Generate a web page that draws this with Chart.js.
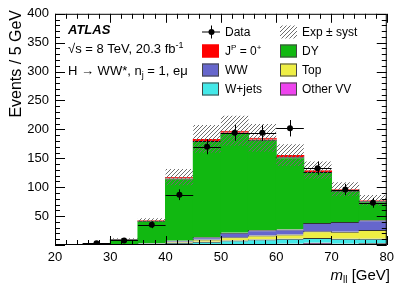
<!DOCTYPE html>
<html>
<head>
<meta charset="utf-8">
<script src="https://cdn.jsdelivr.net/npm/chart.js@4.4.0/dist/chart.umd.min.js"></script>
<style>
html, body { margin: 0; padding: 0; background: #fff; }
</style>
</head>
<body>
<canvas id="myChart" width="399" height="286"></canvas>
<script>
// bin centres of the 5 GeV bins, 20-80 GeV
var binCenters = [22.5, 27.5, 32.5, 37.5, 42.5, 47.5, 52.5, 57.5, 62.5, 67.5, 72.5, 77.5];

// stacked backgrounds, bottom to top
var otherVV = [0, 0, 0, 0.3, 0.5, 1, 1, 1.5, 2, 4, 2, 3];
var wJets   = [0, 0.2, 0.5, 1, 3.5, 4.5, 7, 8, 9, 8, 9, 8];
var topBkg  = [0, 0.1, 0.3, 0.5, 1.5, 4, 5.5, 7, 7, 12, 12, 15];
var ww      = [0, 0.2, 0.5, 1, 2, 4, 7.5, 9, 9, 14, 17, 17];
var dy      = [0.8, 1.5, 8.5, 39, 107.5, 166.5, 173, 156.5, 125, 88.5, 54, 32.5];
var signal  = [0.3, 0.2, 0.5, 1.5, 2.5, 3.5, 3.5, 3.5, 3.5, 3, 2.5, 2];

// +- syst on the total expectation
var expSyst = [0.3, 0.5, 1.5, 3, 14, 24, 26, 24, 19, 15, 12, 9];

// observed data and its errors
var dataVals = [null, 3, 8, 35, 87, 170, 194, 194, 202, 133, 96, 73];
var dataErr  = [0, 1.7, 2.8, 5.9, 9.3, 13, 13.9, 13.9, 14.2, 11.5, 9.8, 8.5];

var xTicks = [20, 30, 40, 50, 60, 70, 80];
var yTicks = [50, 100, 150, 200, 250, 300, 350, 400];

var FONT = '"Liberation Sans", Arial, Helvetica, sans-serif';
Chart.defaults.font.family = FONT;
Chart.defaults.color = '#000';

function toPoints(arr) {
    return binCenters.map((c, i) => ({ x: c, y: arr[i] }));
}

var ctx = document.getElementById('myChart').getContext('2d');

function makeHatch() {
    var c = document.createElement('canvas');
    c.width = 4; c.height = 4;
    var g = c.getContext('2d');
    g.strokeStyle = '#6e6e6e';
    g.lineWidth = 1;
    g.beginPath();
    g.moveTo(0, 4); g.lineTo(4, 0);
    g.moveTo(-1, 1); g.lineTo(1, -1);
    g.moveTo(3, 5); g.lineTo(5, 3);
    g.stroke();
    return ctx.createPattern(c, 'repeat');
}
var hatch = makeHatch();

var totals = binCenters.map((c, i) => otherVV[i] + wJets[i] + topBkg[i] + ww[i] + dy[i] + signal[i]);
var band = binCenters.map((c, i) => ({ x: c, y: [totals[i] - expSyst[i], totals[i] + expSyst[i]] }));

function stackSet(label, arr, color, border) {
    return {
        type: 'bar',
        label: label,
        data: toPoints(arr),
        backgroundColor: color,
        borderColor: border,
        borderWidth: { top: 1, right: 0, bottom: 0, left: 0 },
        barThickness: 29,   // 1px overlap hides seams between bins
        inflateAmount: 0,
        grouped: false,
        yAxisID: 'y'
    };
}

// text with sub/superscripts: parts = [[text, size, dy, style]]
function richText(g, parts, x, y, align) {
    var w = 0;
    parts.forEach(p => {
        g.font = (p[3] || '') + ' ' + p[1] + 'px ' + FONT;
        w += g.measureText(p[0]).width;
    });
    var cx = align === 'right' ? x - w : x;
    parts.forEach(p => {
        g.font = (p[3] || '') + ' ' + p[1] + 'px ' + FONT;
        g.fillText(p[0], cx, y + (p[2] || 0));
        cx += g.measureText(p[0]).width;
    });
}

var decor = {
    id: 'decor',
    afterDatasetsDraw(chart) {
        var g = chart.ctx, a = chart.chartArea;
        var xs = chart.scales.x, ys = chart.scales.y;
        g.save();
        g.strokeStyle = '#000';
        g.lineWidth = 1;

        // data error bars
        g.beginPath();
        binCenters.forEach((c, i) => {
            if (dataVals[i] === null) return;
            var px = xs.getPixelForValue(c), py = ys.getPixelForValue(dataVals[i]);
            g.moveTo(xs.getPixelForValue(c - 2.5), Math.round(py) + 0.5);
            g.lineTo(xs.getPixelForValue(c + 2.5), Math.round(py) + 0.5);
            g.moveTo(Math.round(px) + 0.5, ys.getPixelForValue(dataVals[i] + dataErr[i]));
            g.lineTo(Math.round(px) + 0.5, ys.getPixelForValue(dataVals[i] - dataErr[i]));
        });
        g.stroke();

        // frame + inward ticks
        g.strokeRect(a.left + 0.5, a.top + 0.5, a.right - a.left - 1, a.bottom - a.top - 1);
        g.beginPath();
        for (var v = 20; v <= 80; v += 2) {
            var px = Math.round(xs.getPixelForValue(v)) + 0.5;
            var len = v % 10 === 0 ? 9 : 5;
            g.moveTo(px, a.bottom); g.lineTo(px, a.bottom - len);
            g.moveTo(px, a.top); g.lineTo(px, a.top + len);
        }
        for (var v = 0; v <= 400; v += 10) {
            var py = Math.round(ys.getPixelForValue(v)) + 0.5;
            var len = v % 50 === 0 ? 10 : 5;
            g.moveTo(a.left, py); g.lineTo(a.left + len, py);
            g.moveTo(a.right, py); g.lineTo(a.right - len, py);
        }
        g.stroke();

        // axis titles
        g.fillStyle = '#000';
        g.save();
        g.translate(16.5, 10);
        g.rotate(-Math.PI / 2);
        g.font = '16px ' + FONT;
        g.textAlign = 'right';
        g.textBaseline = 'middle';
        g.fillText('Events / 5 GeV', 0, 0);
        g.restore();

        g.textAlign = 'left';
        g.textBaseline = 'alphabetic';
        richText(g, [['m', 15, 0, 'italic'], ['ll', 10, 3, ''], [' [GeV]', 15, 0, '']], 390, 280, 'right');

        // ATLAS label
        richText(g, [['ATLAS', 13, 0, 'italic bold']], 68, 34);
        richText(g, [['\u221As = 8 TeV, 20.3 fb', 13, 0, ''], ['-1', 9, -5, '']], 68, 53);
        richText(g, [['H \u2192 WW*, n', 13, 0, ''], ['j', 9, 3, ''], [' = 1, e\u03BC', 13, 0, '']], 68, 74.5);

        // legend
        var rows = [31.5, 50.5, 69.5, 88.5];
        var c1 = 202, c2 = 280;
        // Data marker
        g.beginPath();
        g.moveTo(c1, rows[0] + 0.5); g.lineTo(c1 + 18, rows[0] + 0.5);
        g.moveTo(c1 + 9.5, rows[0] - 6); g.lineTo(c1 + 9.5, rows[0] + 7);
        g.stroke();
        g.beginPath();
        g.arc(c1 + 9.5, rows[0] + 0.5, 3, 0, Math.PI * 2);
        g.fill();
        // hatch swatch
        g.fillStyle = hatch;
        g.fillRect(c2, rows[0] - 6, 17, 13);
        var sw = [
            [c1, rows[1], '#ff0000', '#ff0000'],
            [c1, rows[2], '#6666cc', '#444'],
            [c1, rows[3], '#44e8e8', '#444'],
            [c2, rows[1], '#11b811', '#444'],
            [c2, rows[2], '#eeee44', '#444'],
            [c2, rows[3], '#ee44ee', '#444']
        ];
        sw.forEach(s => {
            g.fillStyle = s[2];
            g.fillRect(s[0], s[1] - 6, 17, 13);
            g.strokeStyle = s[3];
            g.strokeRect(s[0] + 0.5, s[1] - 5.5, 16, 12);
        });
        g.fillStyle = '#000';
        g.textBaseline = 'middle';
        var t1 = c1 + 23, t2 = c2 + 22;
        richText(g, [['Data', 12]], t1, rows[0] + 1);
        richText(g, [['J', 12], ['P', 8, -4], [' = 0', 12], ['+', 8, -4]], t1, rows[1] + 1);
        richText(g, [['WW', 12]], t1, rows[2] + 1);
        richText(g, [['W+jets', 12]], t1, rows[3] + 1);
        richText(g, [['Exp \u00B1 syst', 12]], t2, rows[0] + 1);
        richText(g, [['DY', 12]], t2, rows[1] + 1);
        richText(g, [['Top', 12]], t2, rows[2] + 1);
        richText(g, [['Other VV', 12]], t2, rows[3] + 1);
        g.restore();
    }
};

var config = {
    type: 'bar',
    data: {
        datasets: [
            {
                type: 'scatter',
                label: 'Data',
                data: toPoints(dataVals),
                pointRadius: 3,
                pointBackgroundColor: '#000',
                pointBorderColor: '#000',
                pointBorderWidth: 0,
                showLine: false,
                yAxisID: 'y2'
            },
            {
                type: 'bar',
                label: 'Exp \u00B1 syst',
                data: band,
                backgroundColor: hatch,
                borderWidth: 0,
                barPercentage: 1,
                categoryPercentage: 1,
                inflateAmount: 0,
                grouped: false,
                yAxisID: 'y2'
            },
            stackSet('Other VV', otherVV, '#ee44ee', '#333'),
            stackSet('W+jets', wJets, '#44e8e8', '#333'),
            stackSet('Top', topBkg, '#eeee44', '#333'),
            stackSet('WW', ww, '#6666cc', '#333'),
            stackSet('DY', dy, '#11b811', '#111'),
            stackSet('JP = 0+', signal, '#ff0000', '#ff0000')
        ]
    },
    options: {
        responsive: false,
        animation: false,
        layout: { padding: { top: 12, right: 8, left: 0, bottom: 0 } },
        plugins: { legend: { display: false }, tooltip: { enabled: false } },
        scales: {
            x: {
                type: 'linear',
                offset: false,
                min: 20,
                max: 80,
                grid: { display: false, drawTicks: false },
                border: { display: false },
                afterBuildTicks: s => { s.ticks = xTicks.map(v => ({ value: v })); },
                ticks: { font: { size: 13 }, padding: 5, maxRotation: 0, color: '#000' },
                afterFit: s => { s.height = 41; }
            },
            y: {
                stacked: true,
                min: 0,
                max: 400,
                grid: { display: false, drawTicks: false },
                border: { display: false },
                afterBuildTicks: s => { s.ticks = yTicks.map(v => ({ value: v })); },
                ticks: { font: { size: 13 }, padding: 6, color: '#000' },
                afterFit: s => { s.width = 55; }
            },
            y2: {
                stacked: false,
                min: 0,
                max: 400,
                display: false
            }
        }
    },
    plugins: [decor]
};

myChart = new Chart(ctx, config);
</script>
</body>
</html>
